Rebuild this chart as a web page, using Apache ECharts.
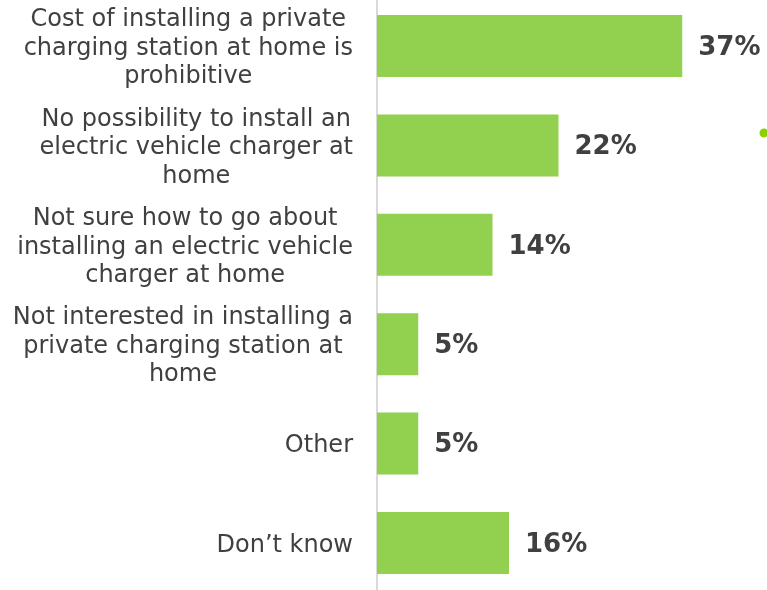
<!DOCTYPE html>
<html>
<head>
<meta charset="utf-8">
<script src="https://cdn.jsdelivr.net/npm/echarts@6/dist/echarts.min.js"></script>
<style>
  html, body { margin: 0; padding: 0; background: #ffffff; }
  #chart { width: 767px; height: 590px; }
</style>
</head>
<body>
<div id="chart"></div>
<script>
// Reasons for not installing a home charger (share of respondents, %)
const categories = [
  'Cost of installing a private\ncharging station at home is\nprohibitive',
  'No possibility to install an\nelectric vehicle charger at\nhome',
  'Not sure how to go about\ninstalling an electric vehicle\ncharger at home',
  'Not interested in installing a\nprivate charging station at\nhome',
  'Other',
  'Don\u2019t know'
];
const shares = [37, 22, 14, 5, 5, 16];

const chart = echarts.init(document.getElementById('chart'), null, { renderer: 'canvas' });

chart.setOption({
  animation: false,
  backgroundColor: '#ffffff',
  textStyle: { fontFamily: 'DejaVu Sans' },
  grid: { left: 377, top: -3.7, height: 596.4, width: 330, containLabel: false, outerBoundsMode: 'none' },
  xAxis: {
    type: 'value', min: 0, max: 40,
    show: false
  },
  yAxis: {
    type: 'category',
    data: categories,
    inverse: true,
    axisLine: { show: true, lineStyle: { color: '#d9d9d9', width: 2 } },
    axisTick: { show: false },
    axisLabel: {
      margin: 24,
      align: 'right',
      padding: [5, 0, 0, 0],
      formatter: function (v) {
        return v.split('\n').map(function (l) { return '{c|' + l + '}'; }).join('\n');
      },
      rich: {
        c: {
          align: 'center',
          fontFamily: 'DejaVu Sans',
          fontSize: 24,
          lineHeight: 28.5,
          color: '#404040'
        }
      }
    }
  },
  series: [{
    type: 'bar',
    data: shares,
    barWidth: 62,
    itemStyle: { color: '#92d050' },
    label: {
      show: true,
      position: 'right',
      distance: 16,
      offset: [0, 2],
      formatter: '{c}%',
      fontFamily: 'DejaVu Sans',
      fontWeight: 'bold',
      fontSize: 26,
      color: '#404040'
    }
  }],
  graphic: [{
    type: 'circle',
    shape: { cx: 764, cy: 133, r: 4.5 },
    style: { fill: '#8cd000' }
  }]
});
</script>
</body>
</html>
